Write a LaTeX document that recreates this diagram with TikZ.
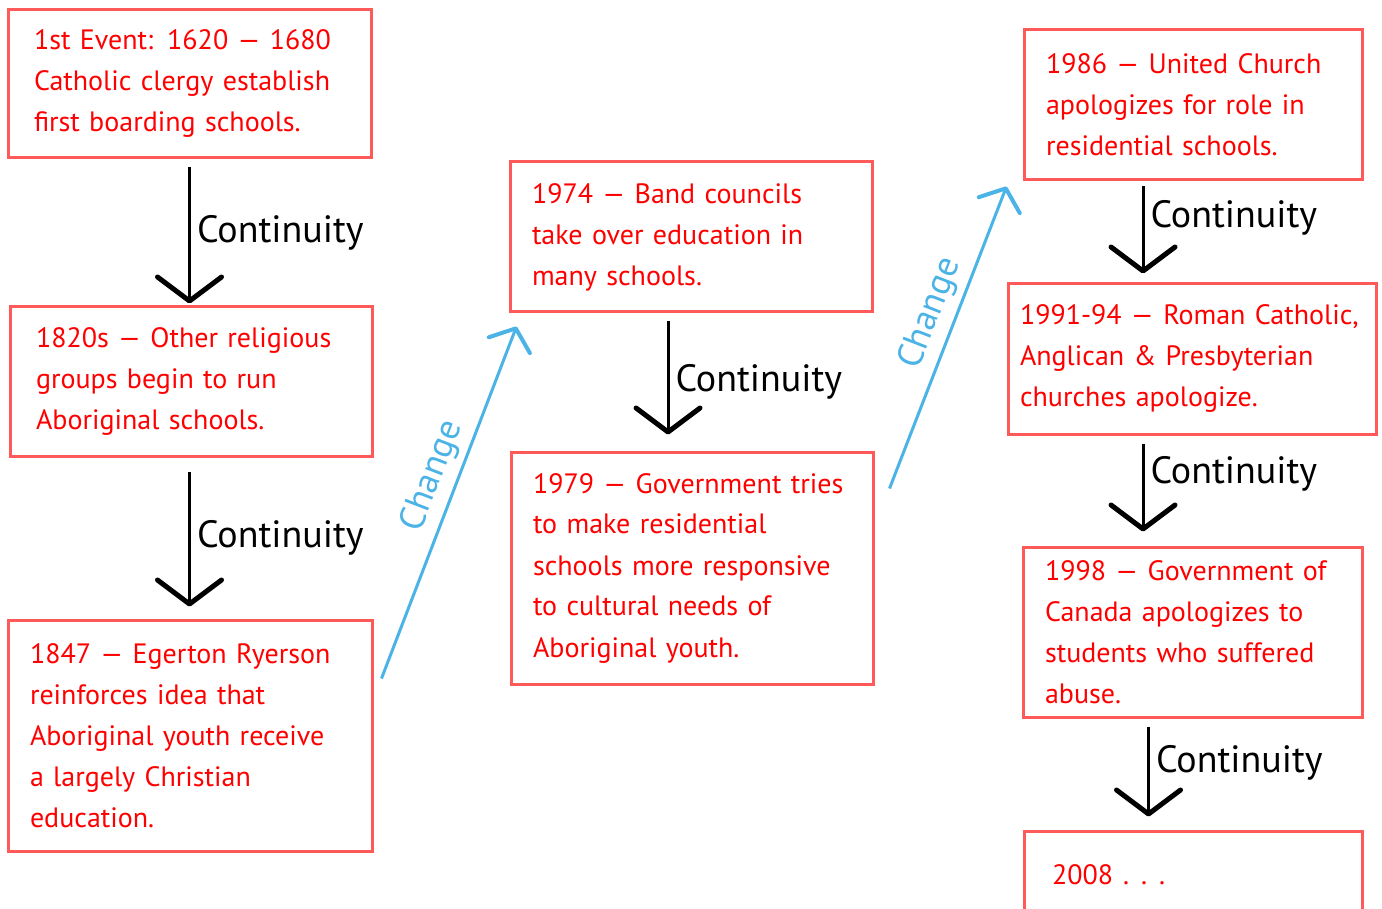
\documentclass[tikz,border=0pt]{standalone}
\usepackage{fontspec}
\setmainfont{PT Sans}
\usetikzlibrary{arrows.meta}
\definecolor{boxred}{HTML}{FF5A5A}
\definecolor{textred}{HTML}{FF0000}
\definecolor{changeblue}{HTML}{4BB3E6}
\tikzset{
  event/.style={draw=boxred, line width=1.5pt, text=textred, align=left,
    inner xsep=11pt, font=\fontsize{14}{20.5}\selectfont},
  cont/.style={black, line width=1.5pt,
    -{Straight Barb[length=12pt,width=32pt,line width=2.5pt 0,round]},
    shorten <=4pt, shorten >=5pt},
  contlabel/.style={right, inner xsep=3pt, font=\fontsize{19}{22}\selectfont},
  change/.style={changeblue, line width=1.5pt,
    -{Straight Barb[length=9pt,width=22pt,line width=2pt 0,round]}},
  changelabel/.style={sloped, above, pos=0.55, text=changeblue,
    font=\fontsize{18}{20}\selectfont},
}
\begin{document}
\begin{tikzpicture}[x=0.5pt,y=-0.5pt]
  \useasboundingbox (0,0) rectangle (1382,909);
  \clip (0,0) rectangle (1382,909);
  % first column
  \node[event, inner xsep=13pt, text width=155.5pt, minimum height=74pt] (first) at (189.5,84)
    {1st Event: 1620 --- 1680\\Catholic clergy establish\\first boarding schools.};
  \node[event, inner xsep=13pt, text width=155pt, minimum height=74.5pt] (religious) at (191,381.5)
    {1820s --- Other religious\\groups begin to run\\Aboriginal schools.};
  \node[event, text width=160pt, minimum height=115.5pt] (ryerson) at (190,735.5)
    {1847 --- Egerton Ryerson\\reinforces idea that\\Aboriginal youth receive\\a largely Christian\\education.};
  % second column
  \node[event, text width=159pt, minimum height=75pt] (band) at (691,237)
    {1974 --- Band councils\\take over education in\\many schools.};
  \node[event, text width=159pt, minimum height=116pt] (government) at (692,568)
    {1979 --- Government tries\\to make residential\\schools more responsive\\to cultural needs of\\Aboriginal youth.};
  % third column
  \node[event, text width=147pt, minimum height=75pt] (united) at (1193,105)
    {1986 --- United Church\\apologizes for role in\\residential schools.};
  \node[event, inner xsep=6pt, text width=172pt, minimum height=75pt] (apology) at (1192,359)
    {1991-94 --- Roman Catholic,\\Anglican \& Presbyterian\\churches apologize.};
  \node[event, text width=147.5pt, minimum height=85pt] (canada) at (1192.5,632)
    {1998 --- Government of\\Canada apologizes to\\students who suffered\\abuse.};
  \node[event, inner xsep=14pt, text width=141pt, minimum height=44pt] (today) at (1193,875)
    {2008\hspace{5pt}.\hspace{6pt}.\hspace{6pt}.};

  \draw[cont, shorten >=1pt] (first.south) -- node[contlabel, pos=0.5] (c1) {Continuity} (first.south |- religious.north);
  \draw[cont, shorten <=7pt, shorten >=6pt] (first.south |- religious.south) -- node[contlabel, pos=0.5] (c2) {Continuity} (first.south |- ryerson.north);
  \draw[cont, shorten >=8pt] ([xshift=-11.5pt]band.south) -- node[contlabel, pos=0.5] (c3) {Continuity} ([xshift=-11.5pt]band.south |- government.north);
  \draw[cont, shorten <=2.5pt, shorten >=4.5pt] ([xshift=-25pt]united.south) -- node[contlabel, pos=0.36] (c4) {Continuity} ([xshift=-25pt]united.south |- apology.north);
  \draw[cont, shorten >=7pt] ([xshift=-25pt]united.south |- apology.south) -- node[contlabel, pos=0.35] (c5) {Continuity} ([xshift=-25pt]united.south |- canada.north);
  \draw[cont, shorten >=6.5pt] ([xshift=-22pt]canada.south) -- node[contlabel, pos=0.4] (c6) {Continuity} ([xshift=-22pt]canada.south |- today.north);

  % change arrows
  \coordinate (s1) at ([xshift=4pt,yshift=-30pt]ryerson.north east);
  \coordinate (e1) at ([xshift=4pt,yshift=-6.5pt]band.south west);
  \coordinate (s2) at ([xshift=7.5pt,yshift=-19pt]government.north east);
  \coordinate (e2) at ([xshift=-8pt,yshift=-2.5pt]united.south west);
  \draw[change] (s1) -- node[changelabel] (ch1) {Change} (e1);
  \draw[change] (s2) -- node[changelabel] (ch2) {Change} (e2);
\end{tikzpicture}
\end{document}
